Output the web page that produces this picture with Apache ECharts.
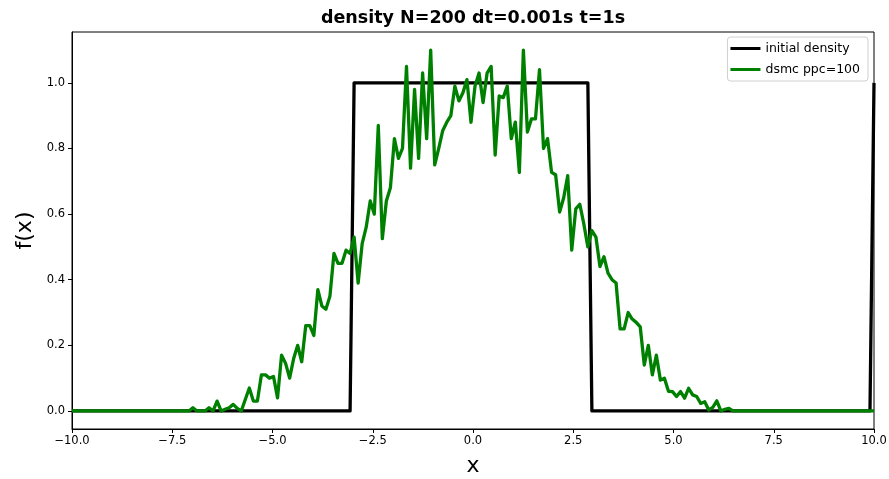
<!DOCTYPE html>
<html>
<head>
<meta charset="utf-8">
<script src="https://cdn.jsdelivr.net/npm/echarts@6/dist/echarts.min.js"></script>
<style>
  html, body { margin: 0; padding: 0; background: #fff; }
  #chart { width: 889px; height: 479px; }
</style>
</head>
<body>
<div id="chart"></div>
<script>
// sample grid: N=200 points on [-10, 10]
const N = 200
const xMin = -10
const xMax = 10

// initial density (step), one value per grid point
const initialDensity = [
  0, 0, 0, 0, 0, 0, 0, 0, 0, 0, 0, 0, 0, 0, 0, 0, 0, 0, 0, 0,
  0, 0, 0, 0, 0, 0, 0, 0, 0, 0, 0, 0, 0, 0, 0, 0, 0, 0, 0, 0,
  0, 0, 0, 0, 0, 0, 0, 0, 0, 0, 0, 0, 0, 0, 0, 0, 0, 0, 0, 0,
  0, 0, 0, 0, 0, 0, 0, 0, 0, 0, 1, 1, 1, 1, 1, 1, 1, 1, 1, 1,
  1, 1, 1, 1, 1, 1, 1, 1, 1, 1, 1, 1, 1, 1, 1, 1, 1, 1, 1, 1,
  1, 1, 1, 1, 1, 1, 1, 1, 1, 1, 1, 1, 1, 1, 1, 1, 1, 1, 1, 1,
  1, 1, 1, 1, 1, 1, 1, 1, 1, 0, 0, 0, 0, 0, 0, 0, 0, 0, 0, 0,
  0, 0, 0, 0, 0, 0, 0, 0, 0, 0, 0, 0, 0, 0, 0, 0, 0, 0, 0, 0,
  0, 0, 0, 0, 0, 0, 0, 0, 0, 0, 0, 0, 0, 0, 0, 0, 0, 0, 0, 0,
  0, 0, 0, 0, 0, 0, 0, 0, 0, 0, 0, 0, 0, 0, 0, 0, 0, 0, 0, 1,
]

// dsmc result, ppc=100
const dsmcDensity = [
  0, 0, 0, 0, 0, 0, 0, 0, 0, 0, 0, 0, 0, 0, 0, 0, 0, 0, 0, 0,
  0, 0, 0, 0, 0, 0, 0, 0, 0, 0, 0.01, 0, 0, 0, 0.01, 0, 0.03, 0, 0.005, 0.01,
  0.02, 0.008, 0, 0.035, 0.07, 0.03, 0.03, 0.11, 0.11, 0.10, 0.105, 0.04, 0.17, 0.145, 0.10, 0.16, 0.20, 0.15, 0.26, 0.26,
  0.23, 0.37, 0.32, 0.31, 0.35, 0.48, 0.45, 0.45, 0.49, 0.48, 0.53, 0.39, 0.51, 0.56, 0.64, 0.60, 0.87, 0.525, 0.64, 0.68,
  0.83, 0.77, 0.80, 1.05, 0.74, 0.98, 0.77, 1.03, 0.83, 1.10, 0.75, 0.80, 0.855, 0.88, 0.90, 0.99, 0.945, 0.97, 1.01, 0.88,
  0.99, 1.03, 0.94, 1.03, 1.05, 0.78, 0.96, 0.955, 0.99, 0.83, 0.88, 0.727, 1.10, 0.85, 0.89, 0.89, 1.04, 0.80, 0.83, 0.727,
  0.72, 0.606, 0.65, 0.717, 0.49, 0.616, 0.63, 0.57, 0.50, 0.55, 0.53, 0.44, 0.47, 0.42, 0.40, 0.39, 0.25, 0.25, 0.30, 0.28,
  0.27, 0.256, 0.14, 0.20, 0.11, 0.17, 0.094, 0.10, 0.06, 0.059, 0.044, 0.059, 0.039, 0.069, 0.049, 0.044, 0.023, 0.028, 0.003, 0.011,
  0.031, 0, 0.005, 0.008, 0, 0, 0, 0, 0, 0, 0, 0, 0, 0, 0, 0, 0, 0, 0, 0,
  0, 0, 0, 0, 0, 0, 0, 0, 0, 0, 0, 0, 0, 0, 0, 0, 0, 0, 0, 0,
]

const xTicks = [-10, -7.5, -5, -2.5, 0, 2.5, 5, 7.5, 10]
const yTicks = [0, 0.2, 0.4, 0.6, 0.8, 1.0]

const xs = []
for (let i = 0; i < N; i++) xs.push(xMin + (i * (xMax - xMin)) / (N - 1))

const pairs = (vals) => vals.map((v, i) => [xs[i], v])
const fmt = (v) => v.toFixed(1).replace('-', '\u2212')

const font = 'DejaVu Sans'
const chart = echarts.init(document.getElementById('chart'))
chart.setOption({
  animation: false,
  backgroundColor: '#fff',
  textStyle: { fontFamily: font },
  title: {
    text: 'density N=200 dt=0.001s t=1s',
    left: 468,
    textAlign: 'center',
    top: 4,
    textStyle: { fontFamily: font, fontSize: 17.5, fontWeight: 'bold', color: '#000' },
  },
  legend: {
    right: 21,
    top: 37,
    orient: 'vertical',
    padding: [5, 8, 5, 3],
    itemGap: 8,
    itemWidth: 30,
    itemHeight: 3,
    icon: 'rect',
    backgroundColor: 'rgba(255,255,255,0.8)',
    borderColor: '#d0d0d0',
    borderWidth: 1,
    borderRadius: 3,
    textStyle: { fontFamily: font, fontSize: 12.5, color: '#000' },
    data: ['initial density', 'dsmc ppc=100'],
  },
  grid: {
    left: 72,
    right: 15,
    top: 32,
    bottom: 50,
    outerBoundsMode: 'none',
    show: true,
    borderColor: '#000',
    borderWidth: 1,
  },
  xAxis: {
    type: 'value',
    min: xMin,
    max: xMax,
    interval: 2.5,
    name: 'x',
    nameLocation: 'middle',
    nameGap: 26,
    nameTextStyle: { fontFamily: font, fontSize: 22, color: '#000' },
    axisLine: { show: true, onZero: false, lineStyle: { color: '#000', width: 1 } },
    axisTick: { show: true, inside: false, length: 4, lineStyle: { color: '#000' }, customValues: xTicks },
    axisLabel: { color: '#000', fontSize: 11.5, margin: 6, formatter: fmt, customValues: xTicks },
    splitLine: { show: false },
  },
  yAxis: {
    type: 'value',
    min: -0.055,
    max: 1.155,
    name: 'f(x)',
    nameLocation: 'middle',
    nameGap: 35,
    nameTextStyle: { fontFamily: font, fontSize: 22, color: '#000' },
    axisLine: { show: true, onZero: false, lineStyle: { color: '#000', width: 1 } },
    axisTick: { show: true, inside: false, length: 4, lineStyle: { color: '#000' }, customValues: yTicks },
    axisLabel: { color: '#000', fontSize: 11.5, margin: 7, formatter: fmt, customValues: yTicks },
    splitLine: { show: false },
  },
  series: [
    {
      name: 'initial density',
      type: 'line',
      data: pairs(initialDensity),
      showSymbol: false,
      color: '#000',
      lineStyle: { color: '#000', width: 3.3, join: 'round' },
    },
    {
      name: 'dsmc ppc=100',
      type: 'line',
      data: pairs(dsmcDensity),
      showSymbol: false,
      color: '#008000',
      lineStyle: { color: '#008000', width: 3.3, join: 'round' },
    },
  ],
})
</script>
</body>
</html>
